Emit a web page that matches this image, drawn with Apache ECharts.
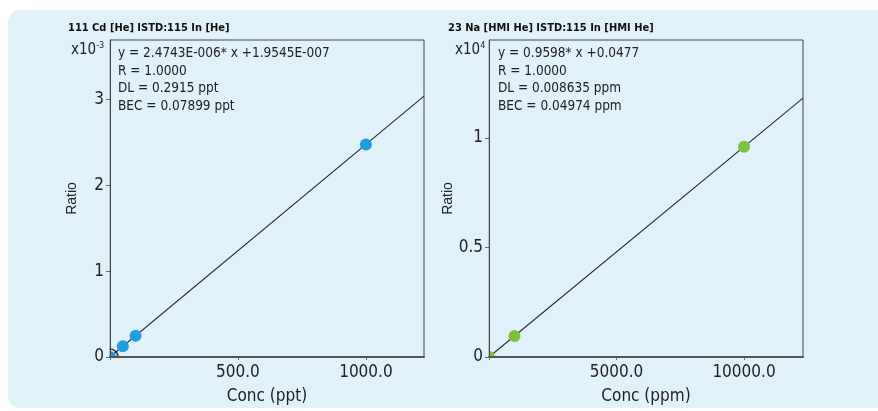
<!DOCTYPE html>
<html><head><meta charset="utf-8">
<script src="https://cdn.jsdelivr.net/npm/echarts@6/dist/echarts.min.js"></script>
<style>html,body{margin:0;padding:0;background:#fff}#c{width:878px;height:411px}</style>
</head><body><div id="c"></div>
<script>
// ---- data ----
const cdConc = [0, 50, 100, 1000];            // ppt
const cdRatio = [0, 0.124, 0.247, 2.474];     // x10^-3
const cdFitX = [0, 1227];
const cdFitY = [0.0002, 3.036];
const cdYTicks = [0, 1, 2, 3];
const cdXTicks = [0, 500, 1000];
const cdXLabels = [500, 1000];

const naConc = [0, 1000, 10000];              // ppm
const naRatio = [0, 0.096, 0.9598];           // x10^4
const naFitX = [0, 12314];
const naFitY = [0.0000048, 1.182];
const naYTicks = [0, 0.5, 1];
const naXTicks = [0, 5000, 10000];
const naXLabels = [5000, 10000];

const cdTitle = '111 Cd [He] ISTD:115 In [He]';
const naTitle = '23 Na [HMI He] ISTD:115 In [HMI He]';
const cdInfo = ['y = 2.4743E-006* x +1.9545E-007', 'R = 1.0000', 'DL = 0.2915 ppt', 'BEC = 0.07899 ppt'];
const naInfo = ['y = 0.9598* x +0.0477', 'R = 1.0000', 'DL = 0.008635 ppm', 'BEC = 0.04974 ppm'];

const NARROW = '"Liberation Sans Narrow","DejaVu Sans Condensed",sans-serif';
const BG = '#E1F1F9';
const chart = echarts.init(document.getElementById('c'));

function xAxis(idx, max, ticks, labels, name) {
  return {
    type: 'value', gridIndex: idx, min: 0, max: max, z: 20,
    name: name, nameLocation: 'middle', nameGap: 31,
    nameTextStyle: {fontFamily: NARROW, fontSize: 17, color: '#222'},
    axisLine: {show: true, lineStyle: {color: '#555', width: 2}},
    axisTick: {show: true, length: 3, customValues: ticks, lineStyle: {color: '#666'}},
    axisLabel: {customValues: labels, fontFamily: NARROW, fontSize: 17, color: '#222', margin: 7,
      formatter: v => v.toFixed(1)},
    splitLine: {show: false}
  };
}
function yAxis(idx, max, ticks, name) {
  return {
    type: 'value', gridIndex: idx, min: 0, max: max, z: 20,
    name: name, nameLocation: 'middle', nameGap: 31, nameRotate: 90,
    nameTextStyle: {fontFamily: '"Liberation Sans",Arial,sans-serif', fontSize: 14, color: '#222'},
    axisLine: {show: true, lineStyle: {color: '#444', width: 1}},
    axisTick: {show: true, length: 4, customValues: ticks, lineStyle: {color: '#666'}},
    axisLabel: {customValues: ticks, fontFamily: NARROW, fontSize: 17, color: '#222', margin: 6},
    splitLine: {show: false}
  };
}
function infoText(x, lines) {
  return {type: 'text', left: x, top: 45, z: 10,
    style: {text: lines.join('\n'), fontFamily: NARROW, fontSize: 13.5, lineHeight: 17.5, fill: '#222'}};
}
function masks(gl, gt, gw, gh) {
  // cover marker parts falling outside the plot frame
  return [
    {type: 'rect', shape: {x: gl - 20, y: gt, width: 19.5, height: gh + 20}, style: {fill: BG}, z: 10, silent: true},
    {type: 'rect', shape: {x: gl - 20, y: gt + gh + 0.5, width: gw + 20, height: 20}, style: {fill: BG}, z: 10, silent: true}
  ];
}

chart.setOption({
  animation: false,
  backgroundColor: '#fff',
  graphic: [
    {type: 'rect', shape: {x: 8, y: 10, width: 890, height: 398, r: 12}, style: {fill: BG}, z: -10},
    ...masks(110, 40, 314, 317),
    ...masks(489, 40, 314, 317),
    {type: 'text', left: 68, top: 23, z: 30, style: {text: cdTitle, fontFamily: NARROW, fontWeight: 'bold', fontSize: 11, fill: '#111'}},
    {type: 'text', left: 448, top: 23, z: 30, style: {text: naTitle, fontFamily: NARROW, fontWeight: 'bold', fontSize: 11, fill: '#111'}},
    {type: 'text', left: 71, top: 41, z: 30, style: {text: '{a|x10}{s|-3}', rich: {
      a: {fontFamily: NARROW, fontSize: 15, fill: '#222', verticalAlign: 'bottom'},
      s: {fontFamily: NARROW, fontSize: 9, fill: '#222', verticalAlign: 'top', padding: [0,0,8,0]}}}},
    {type: 'text', left: 455, top: 41, z: 30, style: {text: '{a|x10}{s|4}', rich: {
      a: {fontFamily: NARROW, fontSize: 15, fill: '#222', verticalAlign: 'bottom'},
      s: {fontFamily: NARROW, fontSize: 9, fill: '#222', verticalAlign: 'top', padding: [0,0,8,0]}}}},
    infoText(118, cdInfo),
    infoText(498, naInfo)
  ],
  grid: [
    {left: 110, top: 40, width: 314, height: 317, show: true, borderColor: '#444', borderWidth: 1, backgroundColor: 'transparent'},
    {left: 489, top: 40, width: 314, height: 317, show: true, borderColor: '#444', borderWidth: 1, backgroundColor: 'transparent'}
  ],
  xAxis: [
    xAxis(0, 1227, cdXTicks, cdXLabels, 'Conc (ppt)'),
    xAxis(1, 12314, naXTicks, naXLabels, 'Conc (ppm)')
  ],
  yAxis: [
    yAxis(0, 3.69, cdYTicks, 'Ratio'),
    yAxis(1, 1.447, naYTicks, 'Ratio')
  ],
  series: [
    {type: 'line', xAxisIndex: 0, yAxisIndex: 0, data: cdFitX.map((x, i) => [x, cdFitY[i]]),
      symbol: 'none', lineStyle: {color: '#2a2a2a', width: 1.1}, clip: true, z: 2},
    {type: 'scatter', xAxisIndex: 0, yAxisIndex: 0, data: [[cdConc[0], cdRatio[0]]],
      symbolSize: 16, itemStyle: {color: 'transparent', borderColor: '#111', borderWidth: 1.6}, z: 3},
    {type: 'scatter', xAxisIndex: 0, yAxisIndex: 0, data: cdConc.map((x, i) => [x, cdRatio[i]]),
      symbolSize: 12, itemStyle: {color: '#1FA0DC', opacity: 1}, z: 4},
    {type: 'line', xAxisIndex: 1, yAxisIndex: 1, data: naFitX.map((x, i) => [x, naFitY[i]]),
      symbol: 'none', lineStyle: {color: '#2a2a2a', width: 1.1}, clip: true, z: 2},
    {type: 'scatter', xAxisIndex: 1, yAxisIndex: 1, data: naConc.map((x, i) => [x, naRatio[i]]),
      symbolSize: 12, itemStyle: {color: '#7DC242', opacity: 1}, z: 4}
  ]
});
</script></body></html>
